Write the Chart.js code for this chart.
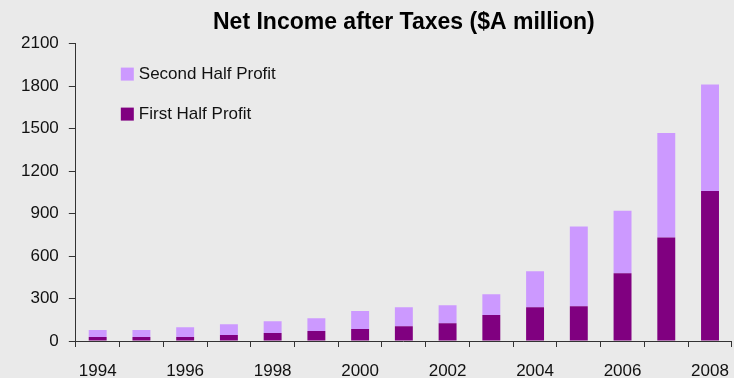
<!DOCTYPE html>
<html>
<head>
<meta charset="utf-8">
<script src="https://cdn.jsdelivr.net/npm/chart.js@4"></script>
<style>
  html, body { margin: 0; padding: 0; background: #EAEAEA; }
  #wrap { width: 734px; height: 378px; }
</style>
</head>
<body>
<div id="wrap"><canvas id="income-chart"></canvas></div>
<script>
const years = ['1994', '1995', '1996', '1997', '1998', '1999', '2000', '2001',
  '2002', '2003', '2004', '2005', '2006', '2007', '2008'];
const firstHalf = [28, 28, 28, 42, 56, 70, 84, 105, 126, 183, 239, 246, 478, 730, 1060];
const secondHalf = [49, 49, 70, 77, 84, 91, 127, 134, 127, 147, 253, 562, 442, 738, 752];
const yTicks = [0, 300, 600, 900, 1200, 1500, 1800, 2100];

// legend sits inside the plot, top left, second half listed first
const insideLegend = {
  id: 'insideLegend',
  afterDraw(chart) {
    const ctx = chart.ctx;
    const area = chart.chartArea;
    const items = chart.data.datasets.slice().reverse();
    ctx.save();
    ctx.font = '17px "Liberation Sans", Arial, sans-serif';
    ctx.textBaseline = 'middle';
    items.forEach((ds, i) => {
      const y = area.top + 30 + i * 40;
      ctx.fillStyle = ds.backgroundColor;
      ctx.fillRect(area.left + 45, y - 6, 13, 13);
      ctx.fillStyle = '#111';
      ctx.fillText(ds.label, area.left + 63, y + 1);
    });
    ctx.restore();
  }
};

const ctx = document.getElementById('income-chart');

new Chart(ctx, {
  type: 'bar',
  data: {
    labels: years,
    datasets: [{
      label: 'First Half Profit',
      data: firstHalf,
      backgroundColor: '#800080',
      barPercentage: 0.41,
      categoryPercentage: 1
    }, {
      label: 'Second Half Profit',
      data: secondHalf,
      backgroundColor: '#CC99FF',
      barPercentage: 0.41,
      categoryPercentage: 1
    }]
  },
  options: {
    responsive: true,
    maintainAspectRatio: false,
    animation: false,
    layout: {
      padding: { left: 11, right: 0, top: 0, bottom: -17 }
    },
    plugins: {
      legend: { display: false },
      tooltip: { enabled: false },
      title: {
        display: true,
        fullSize: false,
        text: 'Net Income after Taxes ($A million)',
        color: '#000',
        font: { family: '"Liberation Sans", Arial, sans-serif', size: 23, weight: 'bold' },
        padding: { top: 9, bottom: 7 }
      }
    },
    scales: {
      x: {
        stacked: true,
        grid: {
          offset: true,
          drawOnChartArea: false,
          drawTicks: true,
          tickLength: 6,
          tickColor: '#333'
        },
        border: { display: true, color: '#333', width: 1 },
        ticks: {
          autoSkip: false,
          maxRotation: 0,
          color: '#111',
          padding: 5,
          font: { family: '"Liberation Sans", Arial, sans-serif', size: 17, lineHeight: 2.235 },
          callback: function (value, index) {
            return index % 2 === 0 ? years[index] : '';
          }
        }
      },
      y: {
        stacked: true,
        min: 0,
        max: 2100,
        afterBuildTicks: axis => {
          axis.ticks = yTicks.map(v => ({ value: v }));
        },
        grid: {
          drawOnChartArea: false,
          drawTicks: true,
          tickLength: 7,
          tickColor: '#333'
        },
        border: { display: true, color: '#333', width: 1 },
        ticks: {
          color: '#111',
          padding: 10,
          font: { family: '"Liberation Sans", Arial, sans-serif', size: 17 },
          callback: value => String(value)
        }
      }
    }
  },
  plugins: [insideLegend]
});
</script>
</body>
</html>
